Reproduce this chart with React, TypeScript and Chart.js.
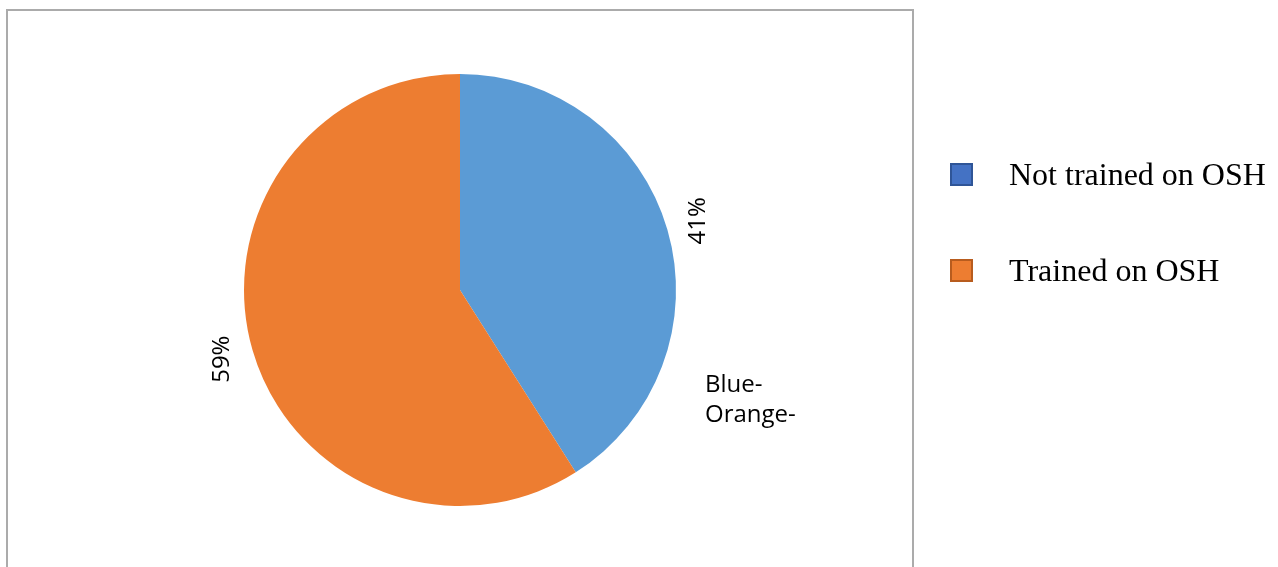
import React, { useEffect, useRef } from "react";
import { Chart, registerables } from "chart.js";

Chart.register(...registerables);

const categories = ["Not trained on OSH", "Trained on OSH"];
const values = [41, 59];
const sliceColors = ["#5B9BD5", "#ED7D31"];
const legendFill = ["#4472C4", "#ED7D31"];
const legendBorder = ["#2F5597", "#B85C1E"];
const valueLabels = ["41%", "59%"];
const strayLabels = ["Blue-", "Orange-"];

const W = 1278;
const H = 567;

const decorPlugin = {
  id: "decor",
  beforeDraw(chart: any) {
    const ctx = chart.ctx;
    ctx.save();
    ctx.fillStyle = "#ffffff";
    ctx.fillRect(0, 0, W, H);
    ctx.strokeStyle = "#ABABAB";
    ctx.lineWidth = 2;
    ctx.beginPath();
    ctx.moveTo(7, H + 5);
    ctx.lineTo(7, 10);
    ctx.lineTo(913, 10);
    ctx.lineTo(913, H + 5);
    ctx.stroke();
    ctx.restore();
  },
  afterDraw(chart: any) {
    const ctx = chart.ctx;
    const meta = chart.getDatasetMeta(0);
    ctx.save();
    ctx.font = "24px 'Open Sans'";
    ctx.fillStyle = "#000000";
    ctx.textAlign = "center";
    ctx.textBaseline = "middle";
    meta.data.forEach((arc: any, i: number) => {
      const p = arc.getProps(["x", "y", "startAngle", "endAngle", "outerRadius"], true);
      const mid = (p.startAngle + p.endAngle) / 2;
      const r = p.outerRadius + 32;
      const x = p.x + Math.cos(mid) * r;
      const y = p.y + Math.sin(mid) * r;
      ctx.save();
      ctx.translate(x, y);
      ctx.rotate(-Math.PI / 2);
      ctx.fillText(valueLabels[i], 0, 0);
      ctx.restore();
    });
    ctx.textAlign = "left";
    ctx.textBaseline = "alphabetic";
    strayLabels.forEach((t, i) => {
      ctx.fillText(t, 705, 392 + i * 30);
    });
    ctx.font = "32px 'Liberation Serif'";
    categories.forEach((c, i) => {
      const base = 185 + i * 96;
      ctx.fillStyle = legendFill[i];
      ctx.fillRect(951, base - 21, 21, 21);
      ctx.strokeStyle = legendBorder[i];
      ctx.lineWidth = 2;
      ctx.strokeRect(951, base - 21, 21, 21);
      ctx.fillStyle = "#000000";
      ctx.fillText(c, 1009, base);
    });
    ctx.restore();
  },
};

export default function App() {
  const ref = useRef<HTMLCanvasElement | null>(null);
  useEffect(() => {
    if (!ref.current) return;
    const chart = new Chart(ref.current, {
      type: "pie",
      data: {
        labels: categories,
        datasets: [
          {
            data: values,
            backgroundColor: sliceColors,
            borderWidth: 0,
          },
        ],
      },
      options: {
        animation: false,
        responsive: false,
        maintainAspectRatio: false,
        layout: { padding: { left: 244, right: 602, top: 74, bottom: 61 } },
        plugins: {
          legend: { display: false },
          tooltip: { enabled: false },
        },
      },
      plugins: [decorPlugin],
    });
    return () => chart.destroy();
  }, []);
  return (
    <div style={{ position: "absolute", left: 0, top: 0, width: W, height: H, background: "#fff" }}>
      <canvas ref={ref} width={W} height={H} style={{ width: W, height: H, display: "block" }} />
    </div>
  );
}
